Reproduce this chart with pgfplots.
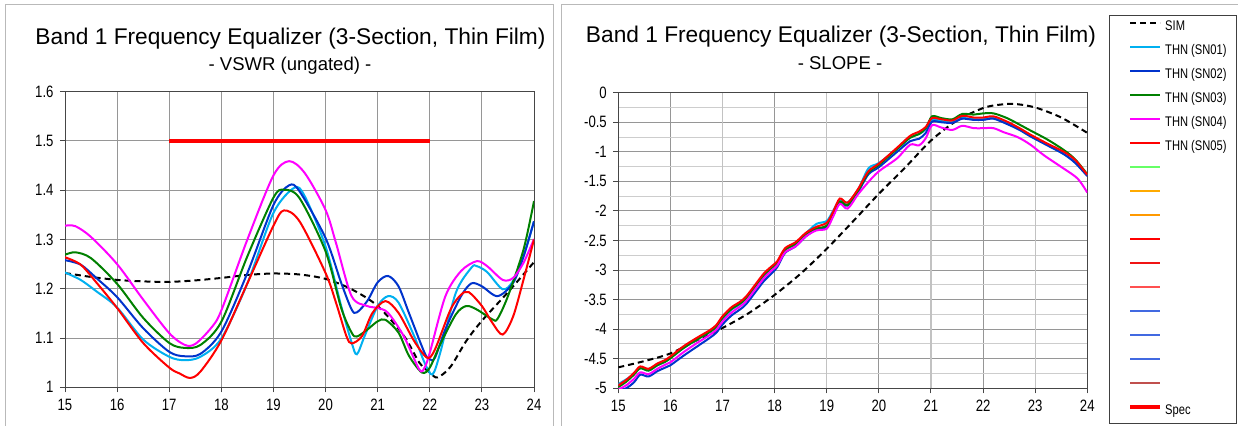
\documentclass[border=0pt]{standalone}
\usepackage{fontspec}
\setmainfont{Liberation Sans}
\newfontfamily\narrowfont{Liberation Sans}[FakeStretch=0.8]
\usepackage{pgfplots}
\pgfplotsset{compat=1.18}
\definecolor{cSNa}{RGB}{0,176,240}
\definecolor{cSNb}{RGB}{0,51,204}
\definecolor{cSNc}{RGB}{0,128,0}
\definecolor{cSNd}{RGB}{255,0,255}
\definecolor{cSNe}{RGB}{255,0,0}
\definecolor{exA}{RGB}{102,255,102}
\definecolor{exB}{RGB}{255,170,0}
\definecolor{exC}{RGB}{255,153,0}
\definecolor{exD}{RGB}{255,0,0}
\definecolor{exE}{RGB}{240,20,20}
\definecolor{exF}{RGB}{255,80,80}
\definecolor{exG}{RGB}{65,105,225}
\definecolor{exH}{RGB}{192,80,77}
\definecolor{gridA}{RGB}{150,150,150}
\definecolor{gridB}{RGB}{205,205,205}
\definecolor{panel}{RGB}{185,185,185}
\definecolor{axline}{RGB}{70,70,70}
\pgfplotsset{
  myaxis/.style={
    scale only axis, anchor=south west,
    width=469bp, height=295.6bp,
    xmin=15, xmax=24,
    xtick={15,16,17,18,19,20,21,22,23,24},
    /pgf/number format/assume math mode=true,
    ticklabel style={font=\narrowfont\fontsize{16.5}{19}\selectfont, text=black},
    yticklabel style={xshift=-3bp},
    xticklabel style={yshift=-3bp},
    axis line style={axline, line width=1bp},
    tick style={axline, line width=1bp},
    major tick length=5bp, tick align=outside, tick pos=left,
    data/.style={smooth, line width=2bp},
    simline/.style={smooth, black, line width=2bp, dash pattern=on 6bp off 4bp},
    unused/.style={smooth, line width=2bp},
  }
}
\begin{document}
\begin{tikzpicture}[x=1bp,y=1bp]
\useasboundingbox (0,0) rectangle (1238,425);
\draw[panel, line width=1bp] (5,-5) -- (5,420) -- (553,420) -- (553,-5);
\draw[panel, line width=1bp] (561,-5) -- (561,420) -- (1245,420);
\draw[black!75, line width=0.8bp] (1109,2) rectangle (1236,410);

\node[anchor=base, font=\fontsize{22.8}{26}\selectfont] at (290.5,380.7) {Band 1 Frequency Equalizer (3-Section, Thin Film)};
\node[anchor=base, font=\fontsize{18.6}{22}\selectfont] at (290,355) {- VSWR (ungated) -};
\node[anchor=base, font=\fontsize{22.8}{26}\selectfont] at (841,382.5) {Band 1 Frequency Equalizer (3-Section, Thin Film)};
\node[anchor=base, font=\fontsize{18.6}{22}\selectfont] at (840,355.2) {- SLOPE -};

% ---------------- VSWR ----------------
\begin{axis}[myaxis, at={(65bp,37.7bp)},
  ymin=1, ymax=1.6, ytick={1,1.1,1.2,1.3,1.4,1.5,1.6},
  grid=major, major grid style={gridA, line width=1bp}]
\addplot[simline] coordinates {(15,1.232) (15.5,1.224) (16,1.218) (16.5,1.215) (17,1.214) (17.5,1.217) (18,1.222) (18.5,1.228) (19,1.231) (19.5,1.229) (20,1.220) (20.5,1.199) (21,1.165) (21.5,1.105) (21.8,1.050) (22,1.030) (22.15,1.020) (22.4,1.042) (22.7,1.094) (23,1.135) (23.5,1.193) (24,1.254)};
\addplot[data, cSNa] coordinates {(15,1.233) (15.3,1.218) (15.6,1.195) (16,1.162) (16.5,1.097) (17,1.062) (17.3,1.055) (17.6,1.062) (18,1.099) (18.5,1.211) (19,1.354) (19.4,1.405) (19.6,1.388) (20,1.286) (20.3,1.165) (20.5,1.091) (20.6,1.067) (20.75,1.104) (21,1.165) (21.2,1.185) (21.4,1.172) (21.7,1.104) (21.9,1.050) (22.05,1.026) (22.2,1.070) (22.5,1.192) (22.8,1.243) (22.9,1.246) (23.1,1.234) (23.4,1.199) (23.6,1.216) (23.8,1.266) (24,1.337)};
\addplot[data, cSNb] coordinates {(15,1.258) (15.3,1.249) (15.6,1.222) (16,1.183) (16.5,1.120) (17,1.072) (17.3,1.063) (17.6,1.068) (18,1.113) (18.5,1.232) (19,1.370) (19.3,1.410) (19.5,1.398) (20,1.303) (20.3,1.212) (20.5,1.158) (20.6,1.152) (20.8,1.175) (21,1.213) (21.2,1.226) (21.4,1.205) (21.6,1.151) (21.9,1.070) (22,1.057) (22.1,1.060) (22.3,1.118) (22.6,1.185) (22.8,1.211) (23,1.205) (23.3,1.185) (23.6,1.212) (23.8,1.266) (24,1.337)};
\addplot[data, cSNc] coordinates {(15,1.269) (15.2,1.274) (15.5,1.262) (16,1.210) (16.5,1.141) (17,1.090) (17.3,1.080) (17.6,1.086) (18,1.133) (18.5,1.266) (19,1.385) (19.2,1.401) (19.5,1.384) (20,1.276) (20.3,1.161) (20.5,1.111) (20.6,1.103) (20.8,1.117) (21,1.134) (21.15,1.137) (21.4,1.111) (21.6,1.064) (21.85,1.030) (22,1.040) (22.2,1.087) (22.5,1.148) (22.7,1.165) (22.9,1.158) (23.2,1.138) (23.3,1.139) (23.5,1.185) (23.8,1.280) (24,1.378)};
\addplot[data, cSNd] coordinates {(15,1.328) (15.2,1.327) (15.5,1.305) (16,1.250) (16.5,1.178) (17,1.110) (17.3,1.086) (17.5,1.088) (17.8,1.120) (18,1.156) (18.5,1.300) (19,1.430) (19.3,1.459) (19.6,1.435) (20,1.360) (20.2,1.293) (20.5,1.185) (20.8,1.165) (21,1.161) (21.2,1.151) (21.5,1.104) (21.8,1.036) (21.9,1.040) (22,1.070) (22.3,1.185) (22.6,1.236) (22.9,1.256) (23.1,1.246) (23.4,1.218) (23.6,1.222) (23.8,1.253) (24,1.301)};
\addplot[data, cSNe] coordinates {(15,1.264) (15.3,1.249) (15.6,1.213) (16,1.161) (16.5,1.090) (17,1.040) (17.2,1.028) (17.4,1.019) (17.6,1.032) (18,1.095) (18.5,1.211) (19,1.328) (19.2,1.359) (19.5,1.337) (20,1.232) (20.2,1.172) (20.4,1.104) (20.5,1.089) (20.7,1.104) (20.9,1.151) (21.15,1.175) (21.4,1.151) (21.7,1.094) (21.95,1.060) (22.1,1.077) (22.4,1.158) (22.6,1.188) (22.75,1.193) (23,1.165) (23.2,1.131) (23.4,1.107) (23.6,1.144) (23.8,1.219) (24,1.300)};
\addplot[cSNe, line width=4bp] coordinates {(17,1.5) (22,1.5)};
\end{axis}

% ---------------- SLOPE ----------------
\begin{axis}[myaxis, at={(618.3bp,36.7bp)},
  ymin=-5, ymax=0, ytick={0,-0.5,-1,-1.5,-2,-2.5,-3,-3.5,-4,-4.5,-5},
  minor ytick={-0.25,-0.75,-1.25,-1.75,-2.25,-2.75,-3.25,-3.75,-4.25,-4.75},
  xtick={15,16,18,20,22,24},
  extra x ticks={17,19,21,23},
  extra tick style={major grid style={gridB!80!gridA, line width=1.2bp}},
  grid=both, major grid style={gridA, line width=1bp}, minor grid style={gridB, line width=1bp},
  minor tick length=0pt,
  legend style={at={(1.0868,1.2436)}, anchor=north west, draw=none, fill=none,
    inner sep=0pt, row sep=11bp, column sep=3bp,
    font=\narrowfont\fontsize{14}{16}\selectfont,
    nodes={inner sep=0pt, text height=10bp, text depth=3bp}},
  legend cell align=left,
  legend image code/.code={\draw[#1] (0bp,4bp) -- (30bp,4bp);}]
\addplot[simline] coordinates {(15,-4.645) (15.5,-4.54) (16,-4.41) (16.5,-4.19) (17,-3.98) (17.5,-3.73) (18,-3.42) (18.5,-3.06) (19,-2.64) (19.5,-2.18) (20,-1.71) (20.5,-1.27) (21,-0.81) (21.5,-0.47) (22,-0.26) (22.3,-0.205) (22.6,-0.19) (23,-0.25) (23.5,-0.42) (24,-0.68)};
\addlegendentry{SIM}
\addplot[data, cSNa] coordinates {(15,-4.93) (15.15,-4.85) (15.3,-4.76) (15.42,-4.66) (15.58,-4.70) (15.75,-4.61) (15.9,-4.55) (16,-4.49) (16.25,-4.32) (16.5,-4.18) (16.75,-4.05) (16.88,-3.96) (17,-3.82) (17.17,-3.67) (17.33,-3.58) (17.45,-3.49) (17.65,-3.26) (17.8,-3.09) (17.95,-2.97) (18.05,-2.88) (18.2,-2.65) (18.4,-2.55) (18.6,-2.38) (18.8,-2.22) (19,-2.17) (19.12,-2.00) (19.25,-1.82) (19.4,-1.86) (19.6,-1.64) (19.8,-1.28) (20,-1.19) (20.35,-0.95) (20.6,-0.76) (20.77,-0.70) (20.9,-0.62) (21.02,-0.46) (21.2,-0.48) (21.41,-0.50) (21.6,-0.43) (21.82,-0.45) (22,-0.45) (22.2,-0.43) (22.46,-0.52) (22.7,-0.62) (22.91,-0.73) (23.23,-0.88) (23.55,-1.04) (23.77,-1.18) (24,-1.40)};
\addlegendentry{THN (SN01)}
\addplot[data, cSNb] coordinates {(15,-5.04) (15.15,-5.00) (15.3,-4.90) (15.42,-4.77) (15.58,-4.80) (15.75,-4.71) (15.9,-4.65) (16,-4.61) (16.25,-4.45) (16.5,-4.30) (16.75,-4.15) (16.88,-4.06) (17,-3.92) (17.17,-3.77) (17.33,-3.67) (17.45,-3.58) (17.65,-3.35) (17.8,-3.18) (17.95,-3.05) (18.05,-2.95) (18.2,-2.71) (18.4,-2.60) (18.6,-2.43) (18.8,-2.31) (19,-2.27) (19.12,-2.08) (19.25,-1.86) (19.4,-1.91) (19.6,-1.68) (19.8,-1.38) (20,-1.26) (20.35,-1.00) (20.6,-0.82) (20.77,-0.78) (20.9,-0.68) (21.02,-0.49) (21.2,-0.50) (21.41,-0.51) (21.6,-0.44) (21.82,-0.46) (22,-0.46) (22.2,-0.44) (22.46,-0.53) (22.7,-0.63) (22.91,-0.74) (23.23,-0.89) (23.55,-1.04) (23.77,-1.19) (24,-1.41)};
\addlegendentry{THN (SN02)}
\addplot[data, cSNc] coordinates {(15,-4.98) (15.15,-4.89) (15.3,-4.77) (15.42,-4.66) (15.58,-4.70) (15.75,-4.61) (15.9,-4.55) (16,-4.49) (16.25,-4.32) (16.5,-4.18) (16.75,-4.05) (16.88,-3.96) (17,-3.81) (17.17,-3.66) (17.33,-3.57) (17.45,-3.48) (17.65,-3.25) (17.8,-3.08) (17.95,-2.96) (18.05,-2.88) (18.2,-2.66) (18.4,-2.56) (18.6,-2.40) (18.8,-2.30) (19,-2.25) (19.12,-2.06) (19.25,-1.84) (19.4,-1.90) (19.6,-1.66) (19.8,-1.35) (20,-1.22) (20.35,-0.95) (20.6,-0.76) (20.77,-0.70) (20.9,-0.60) (21.02,-0.40) (21.2,-0.43) (21.41,-0.45) (21.6,-0.36) (21.82,-0.37) (22,-0.35) (22.2,-0.35) (22.46,-0.43) (22.7,-0.54) (22.91,-0.64) (23.23,-0.79) (23.55,-0.97) (23.77,-1.13) (24,-1.38)};
\addlegendentry{THN (SN03)}
\addplot[data, cSNd] coordinates {(15,-5.02) (15.15,-4.95) (15.3,-4.84) (15.42,-4.73) (15.58,-4.76) (15.75,-4.67) (15.9,-4.60) (16,-4.56) (16.25,-4.39) (16.5,-4.24) (16.75,-4.10) (16.88,-4.01) (17,-3.87) (17.17,-3.72) (17.33,-3.62) (17.45,-3.53) (17.65,-3.30) (17.8,-3.13) (17.95,-3.00) (18.05,-2.92) (18.2,-2.70) (18.4,-2.60) (18.6,-2.43) (18.8,-2.33) (19,-2.30) (19.12,-2.10) (19.25,-1.88) (19.4,-1.96) (19.6,-1.72) (19.8,-1.51) (20,-1.33) (20.35,-1.11) (20.6,-0.88) (20.77,-0.89) (20.9,-0.77) (21.02,-0.55) (21.2,-0.59) (21.41,-0.63) (21.6,-0.56) (21.82,-0.60) (22,-0.60) (22.2,-0.60) (22.4,-0.67) (22.66,-0.75) (22.91,-0.88) (23.17,-1.06) (23.49,-1.25) (23.81,-1.45) (24,-1.69)};
\addlegendentry{THN (SN04)}
\addplot[data, cSNe] coordinates {(15,-4.95) (15.15,-4.86) (15.3,-4.74) (15.42,-4.63) (15.58,-4.67) (15.75,-4.58) (15.9,-4.52) (16,-4.46) (16.25,-4.29) (16.5,-4.15) (16.75,-4.02) (16.88,-3.93) (17,-3.78) (17.17,-3.63) (17.33,-3.54) (17.45,-3.45) (17.65,-3.22) (17.8,-3.05) (17.95,-2.93) (18.05,-2.85) (18.2,-2.63) (18.4,-2.53) (18.6,-2.37) (18.8,-2.27) (19,-2.20) (19.12,-2.02) (19.25,-1.79) (19.4,-1.86) (19.6,-1.63) (19.8,-1.33) (20,-1.20) (20.35,-0.93) (20.6,-0.73) (20.77,-0.66) (20.9,-0.58) (21.02,-0.43) (21.2,-0.45) (21.41,-0.47) (21.6,-0.39) (21.82,-0.42) (22,-0.42) (22.2,-0.40) (22.46,-0.49) (22.7,-0.60) (22.91,-0.71) (23.23,-0.86) (23.55,-1.00) (23.77,-1.14) (24,-1.39)};
\addlegendentry{THN (SN05)}
% series without data in this range (legend placeholders)
\addplot[unused, exA] coordinates {(15,5)};
\addlegendentry{\strut}
\addplot[unused, exB] coordinates {(15,5)};
\addlegendentry{\strut}
\addplot[unused, exC] coordinates {(15,5)};
\addlegendentry{\strut}
\addplot[unused, exD] coordinates {(15,5)};
\addlegendentry{\strut}
\addplot[unused, exE] coordinates {(15,5)};
\addlegendentry{\strut}
\addplot[unused, exF] coordinates {(15,5)};
\addlegendentry{\strut}
\addplot[unused, exG] coordinates {(15,5)};
\addlegendentry{\strut}
\addplot[unused, exG] coordinates {(15,5)};
\addlegendentry{\strut}
\addplot[unused, exG] coordinates {(15,5)};
\addlegendentry{\strut}
\addplot[unused, exH] coordinates {(15,5)};
\addlegendentry{\strut}
\addplot[cSNe, line width=4bp] coordinates {(15,5)};
\addlegendentry{Spec}
\end{axis}
\end{tikzpicture}
\end{document}
